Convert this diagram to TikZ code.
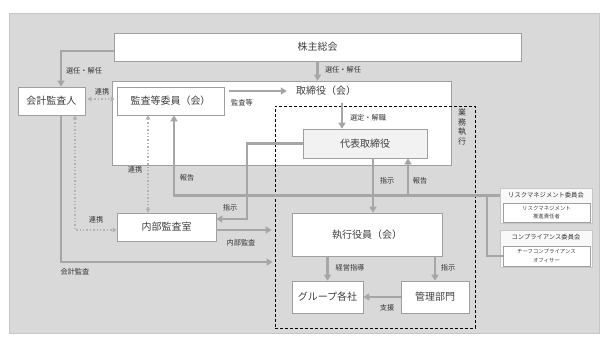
\documentclass[tikz,border=0pt]{standalone}
\usepackage{fontspec}
\setmainfont{Noto Sans CJK JP}
\usetikzlibrary{arrows.meta, positioning}

\begin{document}
\begin{tikzpicture}[x=1pt, y=-1pt, align=center,
    box/.style={draw=gray!75, line width=0.6pt, fill=white, inner sep=0pt, text=black!75, font=\fontsize{10}{12}\selectfont},
    lbl/.style={inner sep=0pt, text=black!80, font=\fontsize{7.2}{8}\selectfont},
    sm/.style={inner sep=0pt, text=black!80, font=\fontsize{6.3}{7}\selectfont},
    arr/.style={draw=gray!70, line width=2.4pt, -{Triangle[width=7pt,length=6pt]}},
    ln/.style={draw=gray!70, line width=2.4pt},
    dotarr/.style={draw=gray!60, line width=1.4pt, dotted, {Triangle[width=4.5pt,length=4pt]}-{Triangle[width=4.5pt,length=4pt]}}]
    \useasboundingbox (0,0) rectangle (606,362);
    \fill [gray!30, draw=gray!45, line width=0.8pt] (9,13) rectangle (599,333);

    % boxes
    \node [box, minimum width=339pt, minimum height=84pt] (board) at (281.5,123) {};
    \node [inner sep=3pt, text=black!75, font=\fontsize{10}{12}\selectfont] (boardt) at (326,91) {取締役（会）};
    \node [box, minimum width=407pt, minimum height=28pt] (shareholders) at (317.5,47) {株主総会};
    \node [box, minimum width=107pt, minimum height=28pt] (auditcom) at (170.5,101) {監査等委員（会）};
    \node [box, minimum width=67pt, minimum height=28pt] (auditor) at (51.5,101) {会計監査人};
    \node [box, fill=gray!10, minimum width=124pt, minimum height=29pt] (ceo) at (365,143.5) {代表取締役};
    \node [box, minimum width=99pt, minimum height=28pt] (internal) at (166.5,227) {内部監査室};
    \node [box, minimum width=150pt, minimum height=43pt] (officers) at (367,234.5) {執行役員（会）};
    \node [box, minimum width=71pt, minimum height=32pt] (group) at (327.5,297) {グループ各社};
    \node [box, minimum width=68pt, minimum height=32pt] (admin) at (435,297) {管理部門};

    % committees
    \node [draw=gray!45, fill=gray!5, minimum width=92pt, minimum height=35pt, inner sep=0pt] (riskcom) at (546,205.5) {};
    \node [sm] (riskt) at (546,195.5) {リスクマネジメント委員会};
    \node [box, minimum width=87pt, minimum height=19pt, font=\fontsize{5.4}{8}\selectfont] (riskmgr) at (546.5,212.5) {リスクマネジメント\\推進責任者};
    \node [draw=gray!45, fill=gray!5, minimum width=92pt, minimum height=37pt, inner sep=0pt] (compcom) at (546,248.5) {};
    \node [sm] (compt) at (546,237.5) {コンプライアンス委員会};
    \node [box, minimum width=87pt, minimum height=20pt, font=\fontsize{5.4}{8.5}\selectfont] (cco) at (546.5,256) {チーフコンプライアンス\\オフィサー};

    % business execution area
    \node [draw, dashed, dash pattern=on 3pt off 2pt, line width=0.8pt, minimum width=200pt, minimum height=222pt, inner sep=0pt] (exec) at (375,217) {};
    \node [inner sep=0pt, text=black!80, font=\fontsize{8}{9.5}\selectfont] (execl) at (462,127) {業\\務\\執\\行};

    \coordinate (bendA) at (247,219);
    \coordinate (jn) at (487,195.5);

    % connectors
    \draw [arr] ([yshift=-4pt]shareholders.west) -| ([xshift=9.5pt]auditor.north);
    \node [lbl] (lsel1) at (84,71) {選任・解任};
    \draw [arr] (shareholders.south) -- (shareholders.south |- board.north);
    \node [lbl] (lsel2) at (343,70) {選任・解任};
    \draw [arr, shorten <=5pt, shorten >=6pt] (auditcom.east |- boardt) -- (boardt);
    \node [lbl] (laud) at (242,103) {監査等};
    \draw [dotarr, shorten <=2pt, shorten >=2pt] ([yshift=2pt]auditor.east) -- ([yshift=2pt]auditcom.west);
    \node [lbl] (lco1) at (102,92) {連携};
    \draw [arr] ([xshift=-23pt, yshift=26pt]ceo.north) -- ([xshift=-23pt]ceo.north);
    \node [lbl] (lapp) at (368,118) {選定・解職};
    \draw [arr] (ceo.west) -| (bendA) -- (bendA -| internal.east);
    \node [lbl] (ldir1) at (230,208) {指示};
    \draw [arr] (riskt.west -| riskcom.west) -| ([xshift=3.5pt]auditcom.south);
    \node [lbl] (lrep1) at (187,178) {報告};
    \draw [ln] (jn) |- (cco.west);
    \draw [arr] ([xshift=8pt]ceo.south) -- ([xshift=8pt]ceo.south |- officers.north);
    \node [lbl] (ldir2) at (387,181) {指示};
    \draw [arr] ([xshift=43pt]ceo.south |- jn) -- ([xshift=43pt]ceo.south);
    \node [lbl] (lrep2) at (420,181) {報告};
    \draw [arr, shorten >=3pt] ([yshift=-3pt]internal.east) -- ([yshift=-3pt]internal.east -| exec.west);
    \node [lbl] (lint) at (241,243) {内部監査};
    \draw [arr, shorten >=2pt] ([xshift=9.5pt]auditor.south) |- ([yshift=-45pt]exec.west);
    \node [lbl] (lacc) at (75,272) {会計監査};
    \draw [dotarr] ([xshift=23.5pt]auditor.south) |- ([yshift=-3pt]internal.west);
    \node [lbl] (lco2) at (96,220) {連携};
    \draw [dotarr] ([xshift=-22.5pt]auditcom.south) -- ([xshift=-22.5pt]auditcom.south |- internal.north);
    \node [lbl] (lco3) at (135,170) {連携};
    \draw [arr] (group.north |- officers.south) -- (group.north);
    \node [lbl] (lgui) at (350,268) {経営指導};
    \draw [arr] (admin.north |- officers.south) -- (admin.north);
    \node [lbl] (ldir3) at (448,268) {指示};
    \draw [arr] (admin.west) -- (group.east);
    \node [lbl] (lsup) at (387,308) {支援};
  \end{tikzpicture}
\end{document}
